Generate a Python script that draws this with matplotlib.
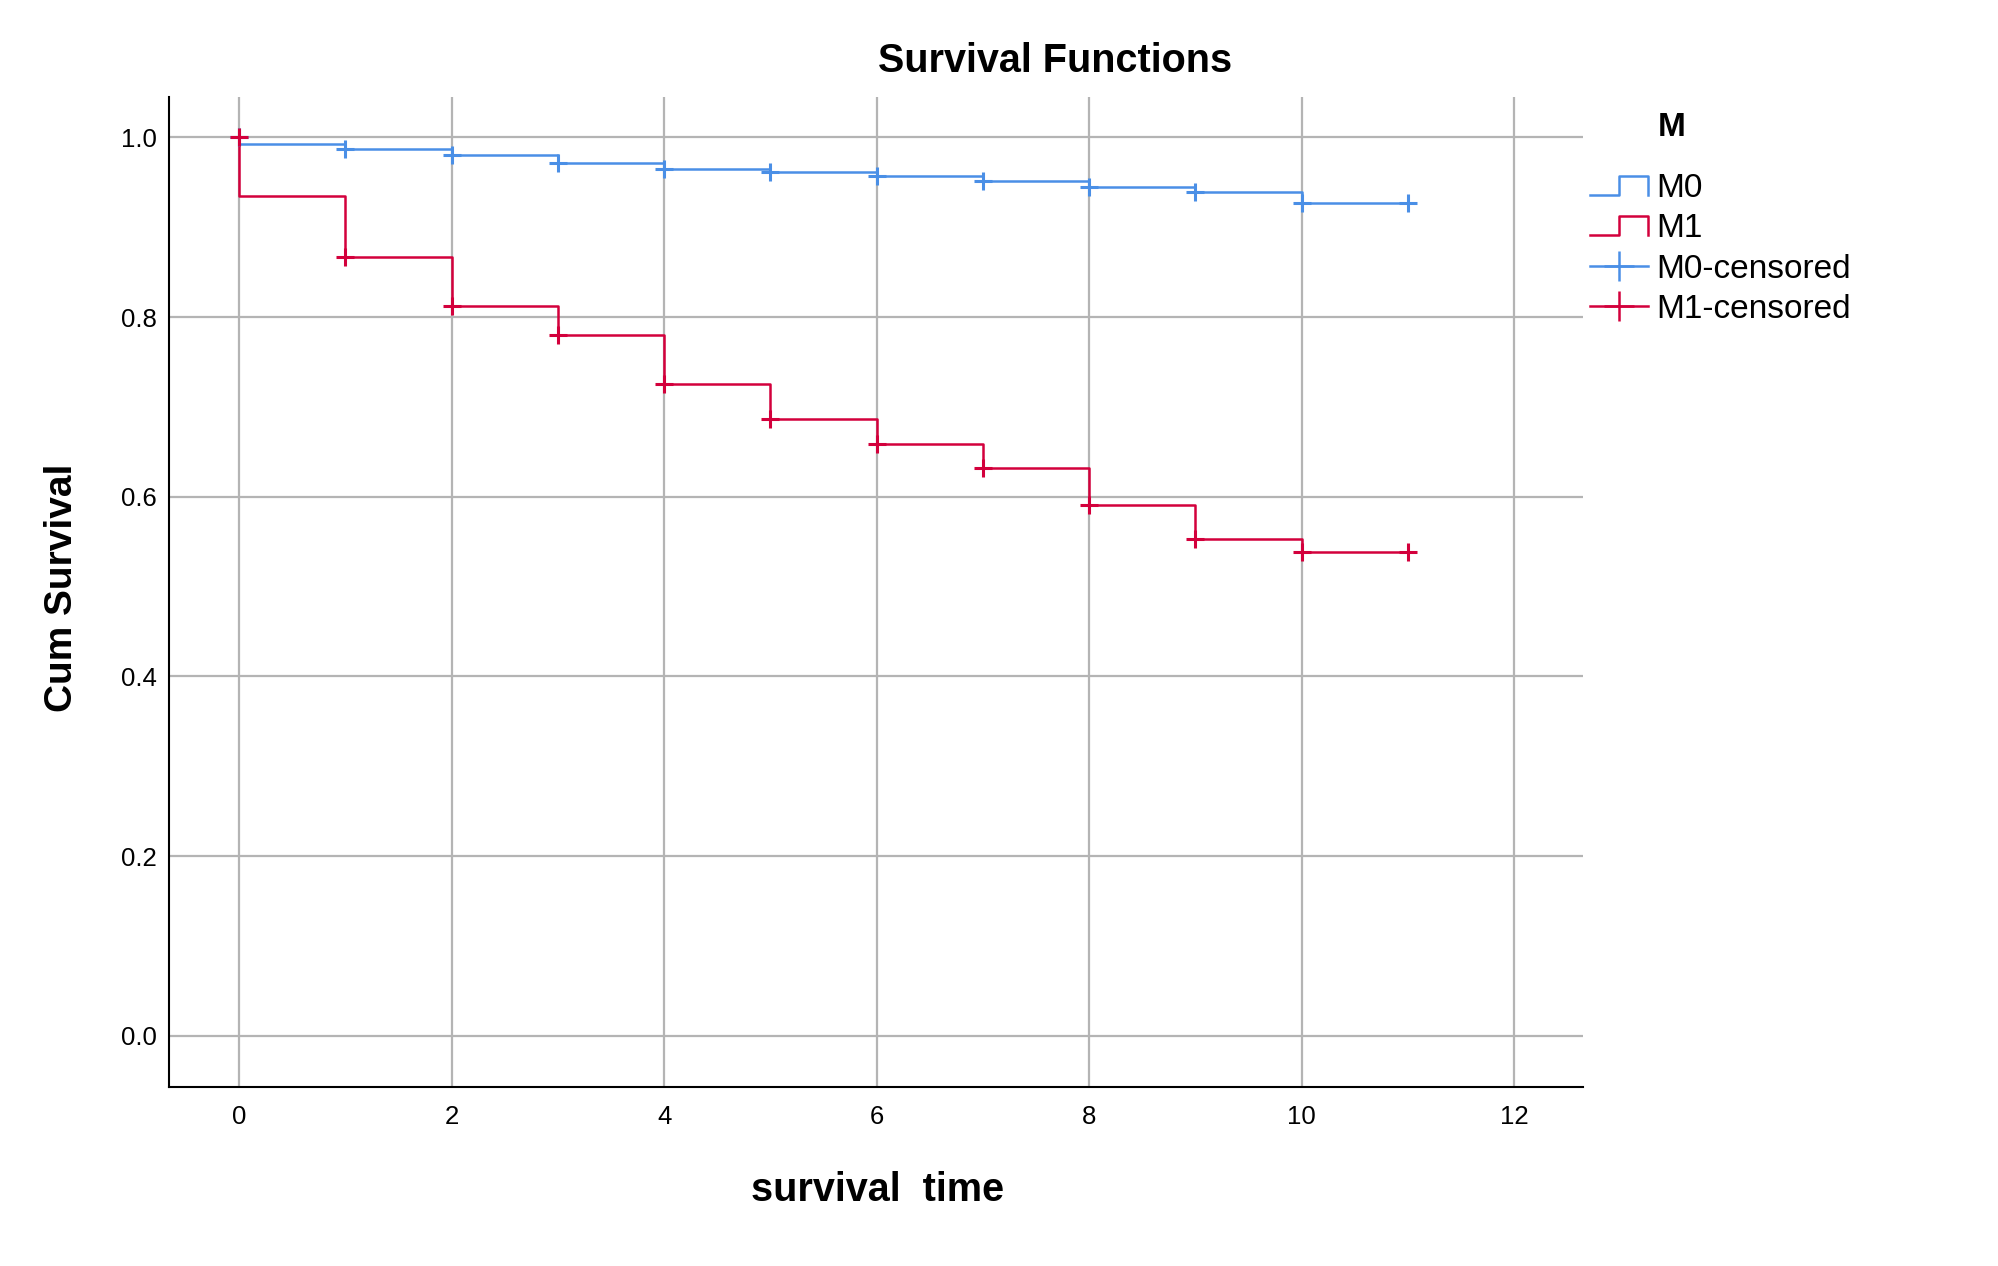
import numpy as np
import matplotlib
matplotlib.use('Agg')
import matplotlib.pyplot as plt
from matplotlib.lines import Line2D
from matplotlib.legend_handler import HandlerBase

plt.rcParams['font.family'] = ['Liberation Sans', 'DejaVu Sans']

# Kaplan-Meier estimates, levels for the intervals [0,1), [1,2), ... [10,11]
times = [0, 1, 2, 3, 4, 5, 6, 7, 8, 9, 10, 11]
m0_surv = [0.993, 0.987, 0.980, 0.972, 0.965, 0.962, 0.957, 0.951, 0.945, 0.939, 0.927]
m1_surv = [0.935, 0.867, 0.812, 0.780, 0.726, 0.687, 0.659, 0.632, 0.591, 0.553, 0.538]

# censored marks
cens_t = [0, 1, 2, 3, 4, 5, 6, 7, 8, 9, 10, 11]
m0_cens = [1.0, 0.987, 0.980, 0.972, 0.965, 0.962, 0.957, 0.951, 0.945, 0.939, 0.927, 0.927]
m1_cens = [1.0, 0.867, 0.812, 0.780, 0.726, 0.687, 0.659, 0.632, 0.591, 0.553, 0.538, 0.538]

groups = ['M0', 'M1']
AZUL = '#4A8FE6'
ROJO = '#D3003C'
GRIS = '#B4B4B4'


class HandlerStep(HandlerBase):
    # little step shape used by SPSS in the legend
    def create_artists(self, legend, orig_handle, xdescent, ydescent,
                       width, height, fontsize, trans):
        x0 = -xdescent
        lo = -ydescent + 0.1 * height
        hi = -ydescent + 0.9 * height
        xs = [x0, x0 + width / 2, x0 + width / 2, x0 + width, x0 + width]
        ys = [lo, lo, hi, hi, lo]
        ln = Line2D(xs, ys, color=orig_handle.get_color(),
                    linewidth=orig_handle.get_linewidth(), transform=trans)
        return [ln]


fig = plt.figure(figsize=(19.99, 12.66), dpi=100)
ax = fig.add_axes([0.0845, 0.1414, 0.7075, 0.782])

for surv, cens, col in [(m0_surv, m0_cens, AZUL), (m1_surv, m1_cens, ROJO)]:
    x = [times[0]] + times[:-1] + [times[-1]]
    y = [1.0] + surv + [surv[-1]]
    ax.plot(x, y, drawstyle='steps-post', color=col, linewidth=1.8, zorder=3)
    ax.plot(cens_t, cens, linestyle='none', marker='+', markersize=13,
            markeredgewidth=2.2, color=col, zorder=4)

ax.set_xlim(-0.662, 12.65)
ax.set_ylim(-0.057, 1.045)
ax.set_xticks(np.arange(0, 13, 2))
ax.set_yticks(np.arange(0, 1.01, 0.2))
ax.set_yticklabels(['%.1f' % v for v in np.arange(0, 1.01, 0.2)])
ax.tick_params(length=0, labelsize=18.5)
ax.tick_params(axis='x', pad=13)
ax.tick_params(axis='y', pad=9)
ax.grid(True, color=GRIS, linewidth=1.6, zorder=0)
ax.set_axisbelow(True)
for s in ['top', 'right']:
    ax.spines[s].set_visible(False)
for s in ['left', 'bottom']:
    ax.spines[s].set_linewidth(1.5)
    ax.spines[s].set_color('black')

fig.text(0.528, 0.952, 'Survival Functions', fontsize=28.5, fontweight='bold',
         ha='center', va='center')
fig.text(0.031, 0.536, 'Cum Survival', fontsize=28, fontweight='bold',
         rotation=90, ha='center', va='center')
fig.text(0.439, 0.060, 'survival  time', fontsize=28.5, fontweight='bold',
         ha='center', va='center')

# legend
h0 = Line2D([], [], color=AZUL, linewidth=1.8)
h1 = Line2D([], [], color=ROJO, linewidth=1.8)
h2 = Line2D([], [], color=AZUL, linewidth=1.8, marker='+', markersize=22, markeredgewidth=1.8)
h3 = Line2D([], [], color=ROJO, linewidth=1.8, marker='+', markersize=22, markeredgewidth=1.8)
fig.legend([h0, h1, h2, h3],
           [groups[0], groups[1], groups[0] + '-censored', groups[1] + '-censored'],
           handler_map={h0: HandlerStep(), h1: HandlerStep()},
           loc='upper left', bbox_to_anchor=(1590 / 1999, 1 - 173 / 1266),
           frameon=False, fontsize=24, handlelength=1.75, handletextpad=0.25,
           labelspacing=0.28, numpoints=1, borderaxespad=0, borderpad=0)
fig.text(1658 / 1999, 1 - 128 / 1266, 'M', fontsize=24, fontweight='bold',
         ha='left', va='center')

fig.savefig('out.png', dpi=100)
